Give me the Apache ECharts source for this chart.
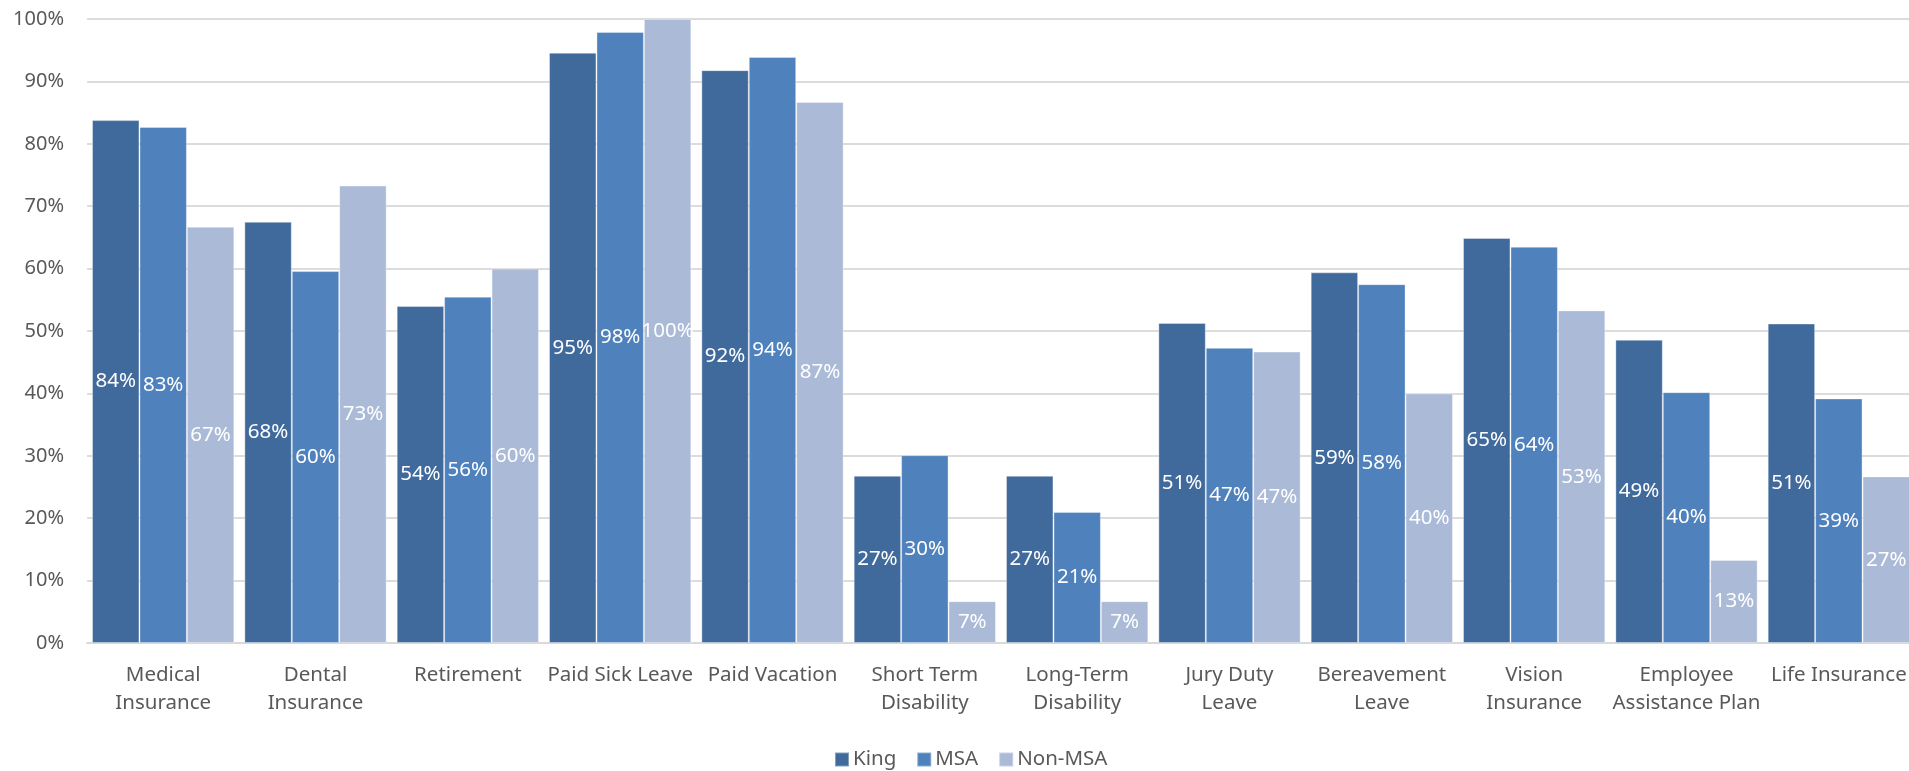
<!DOCTYPE html>
<html>
<head>
<meta charset="utf-8">
<title>Benefits Offered</title>
<script src="https://cdn.jsdelivr.net/npm/echarts@6/dist/echarts.min.js"></script>
<style>
  html, body { margin: 0; padding: 0; background: #ffffff; }
  #chart { width: 1909px; height: 771px; }
</style>
</head>
<body>
<div id="chart"></div>
<script>
// Benefit categories (line breaks as shown under the axis)
const categories = [
  'Medical\nInsurance', 'Dental\nInsurance', 'Retirement', 'Paid Sick Leave',
  'Paid Vacation', 'Short Term\nDisability', 'Long-Term\nDisability', 'Jury Duty\nLeave',
  'Bereavement\nLeave', 'Vision\nInsurance', 'Employee\nAssistance Plan', 'Life Insurance'
];

// Share of employers offering each benefit, in percent
const king   = [83.8, 67.5, 54.0, 94.6, 91.8, 26.8, 26.8, 51.3, 59.4, 64.9, 48.6, 51.2];
const msa    = [82.7, 59.6, 55.5, 97.9, 93.9, 30.1, 21.0, 47.3, 57.5, 63.5, 40.2, 39.2];
const nonMsa = [66.7, 73.3, 60.0, 100, 86.7, 6.7, 6.7, 46.7, 40.0, 53.3, 13.3, 26.7];

const yTicks = { min: 0, max: 100, interval: 10 };

const FONT = '"Noto Sans", "Open Sans", sans-serif';
const TEXT_GRAY = '#595959';

function barSeries(name, data, color) {
  return {
    name: name,
    type: 'bar',
    data: data,
    barGap: 0,
    barCategoryGap: '6.6%',
    itemStyle: { color: color, borderColor: 'rgba(255,255,255,0.35)', borderWidth: 1 },
    label: {
      show: true,
      position: 'inside',
      color: '#ffffff',
      fontFamily: FONT,
      fontSize: 20.5,
      formatter: p => Math.round(p.value) + '%'
    },
    emphasis: { disabled: true }
  };
}

const chart = echarts.init(document.getElementById('chart'), null, { renderer: 'canvas' });
chart.setOption({
  animation: false,
  backgroundColor: '#ffffff',
  grid: { left: 87, right: -6, top: 19, bottom: 128, outerBoundsMode: 'none' },
  legend: {
    data: ['King', 'MSA', 'Non-MSA'],
    left: 834,
    top: 749,
    padding: 0,
    itemWidth: 14,
    itemHeight: 14,
    itemGap: 20,
    icon: 'rect',
    textStyle: { color: TEXT_GRAY, fontFamily: FONT, fontSize: 20.5, padding: [0, 0, 0, -1] }
  },
  xAxis: {
    type: 'category',
    data: categories,
    axisLine: { lineStyle: { color: '#d9d9d9', width: 2 } },
    axisTick: { show: false },
    axisLabel: {
      interval: 0,
      margin: 18,
      color: TEXT_GRAY,
      fontFamily: FONT,
      fontSize: 20.5,
      lineHeight: 28
    }
  },
  yAxis: {
    type: 'value',
    min: yTicks.min,
    max: yTicks.max,
    interval: yTicks.interval,
    axisLine: { show: false },
    axisTick: { show: false },
    splitLine: { lineStyle: { color: '#dcdcdc', width: 2 } },
    axisLabel: {
      margin: 23,
      color: TEXT_GRAY,
      fontFamily: FONT,
      fontSize: 20,
      formatter: '{value}%'
    }
  },
  series: [
    barSeries('King', king, '#416a9c'),
    barSeries('MSA', msa, '#4f81bd'),
    barSeries('Non-MSA', nonMsa, '#abbad7')
  ]
});
</script>
</body>
</html>
